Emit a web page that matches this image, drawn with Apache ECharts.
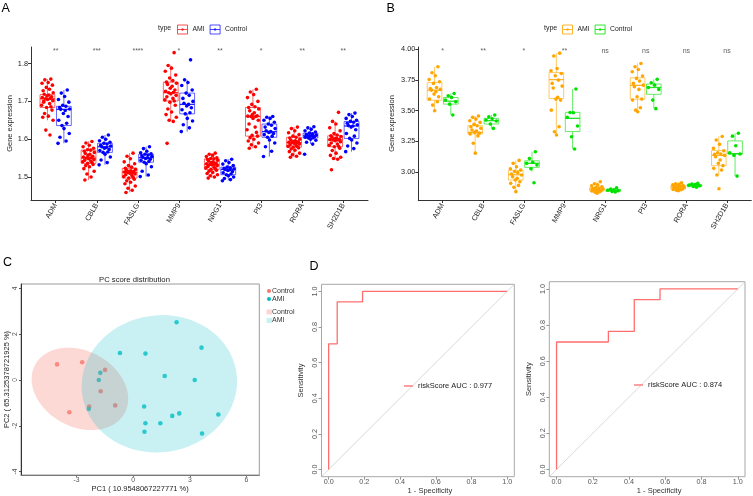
<!DOCTYPE html>
<html><head><meta charset="utf-8">
<script src="https://cdn.jsdelivr.net/npm/echarts@6.0.0/dist/echarts.min.js"></script>
<style>html,body{margin:0;padding:0;background:#fff}#chart{width:753px;height:496px}</style>
</head><body><div id="chart"></div>
<script>
// ---------------- DATA ----------------
const genes = ['ADM','CBLB','FASLG','MMP9','NRG1','PI3','RORA','SH2D1B'];
const groups = ['AMI','Control'];
const sigA = ['**','***','****','*','**','*','**','**'];
const sigB = ['*','**','*','**','ns','ns','ns','ns'];
const ticksA = [1.5,1.6,1.7,1.8];
const ticksB = [3.00,3.25,3.50,3.75,4.00];

// box stats [min, q1, median, q3, max]
const boxA_AMI = [
 [1.650,1.684,1.707,1.718,1.759],
 [1.492,1.536,1.550,1.571,1.594],
 [1.459,1.497,1.512,1.523,1.563],
 [1.647,1.701,1.723,1.751,1.795],
 [1.497,1.520,1.533,1.548,1.563],
 [1.576,1.608,1.660,1.684,1.732],
 [1.552,1.579,1.591,1.605,1.632],
 [1.547,1.580,1.598,1.609,1.647]];
const boxA_Ctrl = [
 [1.589,1.636,1.679,1.687,1.730],
 [1.532,1.565,1.580,1.589,1.611],
 [1.501,1.539,1.551,1.560,1.580],
 [1.620,1.667,1.692,1.722,1.757],
 [1.490,1.506,1.520,1.526,1.547],
 [1.554,1.605,1.620,1.640,1.660],
 [1.587,1.603,1.609,1.616,1.633],
 [1.567,1.602,1.635,1.647,1.669]];
const ptsA_AMI = [
 [1.759,1.757,1.750,1.748,1.743,1.737,1.732,1.728,1.723,1.719,1.717,1.714,1.712,1.710,1.708,1.707,1.705,1.702,1.698,1.694,1.690,1.686,1.684,1.677,1.668,1.661,1.658,1.650,1.624,1.611,1.700],
 [1.594,1.590,1.584,1.580,1.576,1.572,1.571,1.568,1.565,1.562,1.560,1.557,1.555,1.553,1.551,1.550,1.548,1.546,1.544,1.542,1.540,1.538,1.536,1.533,1.530,1.527,1.522,1.515,1.508,1.500,1.492],
 [1.563,1.555,1.548,1.540,1.535,1.530,1.526,1.523,1.520,1.518,1.516,1.515,1.514,1.513,1.512,1.512,1.510,1.508,1.506,1.504,1.501,1.499,1.497,1.494,1.490,1.486,1.482,1.476,1.470,1.465,1.459],
 [1.829,1.795,1.788,1.780,1.770,1.762,1.755,1.751,1.748,1.745,1.740,1.735,1.730,1.727,1.724,1.723,1.720,1.716,1.712,1.708,1.704,1.701,1.698,1.690,1.680,1.672,1.665,1.658,1.650,1.647,1.589],
 [1.563,1.560,1.557,1.554,1.551,1.549,1.548,1.546,1.544,1.542,1.540,1.538,1.536,1.535,1.534,1.533,1.532,1.530,1.528,1.526,1.524,1.522,1.520,1.518,1.515,1.512,1.509,1.506,1.503,1.500,1.497],
 [1.732,1.725,1.718,1.710,1.700,1.692,1.686,1.684,1.680,1.675,1.670,1.665,1.662,1.661,1.660,1.660,1.655,1.650,1.640,1.632,1.625,1.618,1.610,1.608,1.604,1.600,1.595,1.590,1.585,1.580,1.576],
 [1.632,1.628,1.622,1.617,1.612,1.608,1.605,1.603,1.600,1.598,1.596,1.594,1.593,1.592,1.591,1.591,1.589,1.587,1.585,1.583,1.581,1.580,1.579,1.577,1.574,1.571,1.567,1.563,1.559,1.555,1.552],
 [1.671,1.647,1.640,1.630,1.622,1.615,1.611,1.609,1.607,1.605,1.603,1.601,1.600,1.599,1.598,1.598,1.596,1.593,1.590,1.587,1.584,1.581,1.580,1.576,1.570,1.563,1.557,1.552,1.549,1.547,1.519]];
const ptsA_Ctrl = [
 [1.730,1.722,1.713,1.705,1.698,1.690,1.687,1.684,1.680,1.679,1.676,1.668,1.660,1.650,1.642,1.636,1.628,1.615,1.605,1.595,1.589],
 [1.611,1.605,1.600,1.596,1.592,1.589,1.587,1.584,1.582,1.580,1.578,1.576,1.573,1.570,1.566,1.565,1.560,1.553,1.545,1.538,1.532],
 [1.580,1.575,1.568,1.564,1.561,1.560,1.558,1.556,1.554,1.552,1.551,1.549,1.547,1.544,1.541,1.539,1.535,1.527,1.515,1.505,1.501],
 [1.810,1.757,1.750,1.742,1.730,1.722,1.716,1.708,1.700,1.695,1.692,1.688,1.683,1.678,1.670,1.667,1.655,1.648,1.638,1.630,1.620],
 [1.547,1.543,1.538,1.534,1.530,1.526,1.524,1.522,1.521,1.520,1.519,1.517,1.514,1.511,1.508,1.506,1.503,1.500,1.496,1.493,1.490],
 [1.660,1.658,1.655,1.650,1.645,1.640,1.637,1.632,1.628,1.622,1.620,1.618,1.615,1.612,1.608,1.605,1.598,1.590,1.580,1.568,1.554],
 [1.633,1.630,1.626,1.622,1.619,1.616,1.614,1.612,1.611,1.610,1.609,1.608,1.607,1.605,1.604,1.603,1.600,1.597,1.592,1.587,1.560],
 [1.669,1.665,1.660,1.655,1.650,1.647,1.645,1.642,1.638,1.636,1.635,1.632,1.625,1.615,1.608,1.602,1.598,1.590,1.582,1.575,1.567]];

const boxB_AMI = [
 [3.500,3.586,3.668,3.730,3.857],
 [3.154,3.311,3.324,3.378,3.457],
 [2.840,2.935,2.978,3.014,3.095],
 [3.302,3.600,3.754,3.811,3.970],
 [2.826,2.845,2.861,2.872,2.921],
 [3.492,3.594,3.707,3.769,3.886],
 [2.848,2.861,2.878,2.889,2.913],
 [2.976,3.052,3.136,3.175,3.290]];
const boxB_Ctrl = [
 [3.465,3.554,3.578,3.608,3.641],
 [3.354,3.392,3.419,3.438,3.465],
 [3.003,3.038,3.071,3.092,3.166],
 [3.188,3.330,3.438,3.487,3.677],
 [2.837,2.842,2.851,2.859,2.872],
 [3.517,3.634,3.690,3.718,3.756],
 [2.875,2.880,2.891,2.899,2.908],
 [2.967,3.147,3.150,3.254,3.316]];
const ptsB_AMI = [
 [3.859,3.810,3.785,3.755,3.736,3.723,3.690,3.682,3.674,3.668,3.655,3.636,3.614,3.595,3.573,3.546,3.500],
 [3.457,3.446,3.432,3.419,3.405,3.389,3.378,3.370,3.357,3.343,3.335,3.324,3.316,3.311,3.295,3.235,3.154],
 [3.095,3.071,3.043,3.027,3.016,3.005,2.995,2.984,2.976,2.962,2.948,2.935,2.921,2.908,2.891,2.875,2.840],
 [3.970,3.946,3.845,3.826,3.804,3.785,3.750,3.723,3.701,3.685,3.609,3.595,3.587,3.505,3.370,3.329,3.302],
 [2.921,2.905,2.895,2.888,2.880,2.874,2.870,2.866,2.862,2.858,2.855,2.851,2.848,2.845,2.840,2.835,2.828],
 [3.886,3.859,3.837,3.818,3.783,3.764,3.742,3.723,3.709,3.696,3.674,3.614,3.595,3.587,3.524,3.505,3.492],
 [2.913,2.905,2.900,2.895,2.890,2.886,2.883,2.880,2.877,2.874,2.870,2.866,2.862,2.858,2.855,2.852,2.848],
 [3.290,3.261,3.226,3.193,3.174,3.158,3.147,3.144,3.136,3.125,3.098,3.071,3.052,3.030,3.016,2.976,2.864]];
const ptsB_Ctrl = [
 [3.641,3.622,3.609,3.587,3.573,3.554,3.465],
 [3.465,3.450,3.435,3.424,3.416,3.392,3.356],
 [3.166,3.111,3.079,3.071,3.057,3.027,2.913],
 [3.677,3.486,3.484,3.446,3.375,3.288,3.188],
 [2.872,2.862,2.856,2.851,2.847,2.842,2.838],
 [3.756,3.728,3.709,3.690,3.674,3.587,3.517],
 [2.908,2.902,2.898,2.893,2.888,2.882,2.876],
 [3.316,3.293,3.215,3.158,3.147,3.136,2.967]];

// PCA scores
const pcCtrlX = [-4.03,-2.70,-3.38,-1.49,-1.72,-2.33,-0.95];
const pcCtrlY = [0.68,0.77,-1.41,0.44,-0.49,-1.16,-1.11];
const pcAmiX = [2.30,3.62,-0.70,0.65,-1.74,-1.82,1.67,3.26,-2.35,0.58,2.07,2.44,4.51,0.65,1.44,0.60,3.65];
const pcAmiY = [2.52,1.41,1.18,1.15,0.31,0.00,0.17,0.00,-1.27,-1.16,-1.57,-1.46,-1.51,-1.89,-1.89,-2.26,-2.34];
const pcTicksX = [-3,0,3,6];
const pcTicksY = [-4,-2,0,2,4];
// ellipses: [centerX, centerY, axis1X, axis1Y, axis2X, axis2Y]
const ellCtrl = [-2.82,-0.39,2.38,-1.044,0.942,1.467];
const ellAmi = [1.386,-0.166,4.085,0.476,-0.504,2.96];

// ROC curves
const roc1X = [0,0,0.048,0.048,0.19,0.19,1];
const roc1Y = [0,0.706,0.706,0.941,0.941,1,1];
const roc2X = [0,0,0.286,0.286,0.429,0.429,0.571,0.571,1];
const roc2Y = [0,0.706,0.706,0.765,0.765,0.941,0.941,1,1];
const aucValues = ['0.977','0.874'];
const rocTicks = [0,0.2,0.4,0.6,0.8,1.0];
const diagLine = [-0.04,1.04];

// ---------------- STYLE / HELPERS ----------------
const FONT = 'Liberation Sans, Arial, sans-serif';
const JIT = [0.55,-0.42,0.12,-0.88,0.81,-0.18,0.33,-0.69,0.94,-0.52,0.22,-0.08,0.68,-0.83,0.45,-0.31,0.02,0.87,-0.63,0.36,-0.95,0.57,-0.14,0.74,-0.46,0.15,-0.76,0.91,-0.26,0.41,-0.59];
const catPos = genes.map((g,i)=>i+1);
const cA = {AMI:'#FF0000', Control:'#0000FF'};
const cB = {AMI:'#FFA500', Control:'#00E100'};
const DODGE = 0.2, BOXW = 0.36, JW = 0.15;
const KEY_ICON = 'path://M0,0H10V9H0Z M0,4.5H10 M4.3,3.8H5.7V5.2H4.3Z';

function boxSeries(name, gi, stats, dodge, color) {
  return {
    type:'custom', name:name, xAxisIndex:gi, yAxisIndex:gi, silent:true, z:2,
    data: stats.map((s,i)=>[catPos[i]].concat(s)),
    encode:{x:0, y:[1,2,3,4,5]},
    renderItem:function(params, api){
      const x = api.value(0)+dodge;
      const lo=api.coord([x,api.value(1)]), q1=api.coord([x,api.value(2)]), md=api.coord([x,api.value(3)]),
            q3=api.coord([x,api.value(4)]), hi=api.coord([x,api.value(5)]);
      const hw = api.size([BOXW/2,0])[0];
      const cx = md[0];
      const st = {stroke:color, lineWidth:1, opacity:0.6, fill:null};
      return {type:'group', children:[
        {type:'line', shape:{x1:cx,y1:hi[1],x2:cx,y2:q3[1]}, style:st},
        {type:'line', shape:{x1:cx,y1:q1[1],x2:cx,y2:lo[1]}, style:st},
        {type:'rect', shape:{x:cx-hw,y:q3[1],width:2*hw,height:q1[1]-q3[1]}, style:{stroke:color,lineWidth:1,opacity:0.6,fill:'rgba(255,255,255,0)'}},
        {type:'line', shape:{x1:cx-hw,y1:md[1],x2:cx+hw,y2:md[1]}, style:{stroke:color,lineWidth:1.3,opacity:0.85}}
      ]};
    }
  };
}
function pointSeries(name, gi, pts, dodge, color) {
  const data = [];
  pts.forEach((arr,i)=>arr.forEach((v,j)=>data.push([catPos[i]+dodge+JIT[j%JIT.length]*JW, v])));
  return {type:'scatter', name:name, xAxisIndex:gi, yAxisIndex:gi, data:data, symbolSize:3.6,
          itemStyle:{color:color, opacity:1}, z:3, silent:true};
}
function sigSeries(gi, sig, y) {
  return {type:'scatter', xAxisIndex:gi, yAxisIndex:gi, data:sig.map((s,i)=>[catPos[i], y]),
    symbolSize:1, itemStyle:{color:'rgba(0,0,0,0)'}, silent:true, z:4,
    label:{show:true, position:'inside', formatter:p=>sig[p.dataIndex], fontSize:7, color:'#333', fontFamily:FONT}};
}
function geneXAxis(gi) {
  return {type:'value', gridIndex:gi, min:0.4, max:8.6,
    axisLine:{show:true, onZero:false, lineStyle:{color:'#333', width:1}},
    axisTick:{show:true, customValues:catPos, length:3, lineStyle:{color:'#333'}},
    axisLabel:{customValues:catPos, formatter:v=>genes[Math.round(v)-1], rotate:60, fontSize:7.3, color:'#222', margin:4, fontFamily:FONT},
    splitLine:{show:false}};
}
function geneYAxis(gi, mn, mx, ticks, digits, gap) {
  return {type:'value', gridIndex:gi, min:mn, max:mx,
    axisLine:{show:true, onZero:false, lineStyle:{color:'#333', width:1}},
    axisTick:{show:true, customValues:ticks, length:3, lineStyle:{color:'#333'}},
    axisLabel:{customValues:ticks, formatter:v=>v.toFixed(digits), fontSize:7.3, color:'#222', margin:3, fontFamily:FONT},
    splitLine:{show:false},
    name:'Gene expression', nameLocation:'middle', nameGap:gap,
    nameTextStyle:{fontSize:7.5, color:'#222', fontFamily:FONT}};
}
function rocAxes(gi, yGap) {
  return [{type:'value', gridIndex:gi, min:-0.04, max:1.04,
    axisLine:{show:false, onZero:false},
    axisTick:{show:true, customValues:rocTicks, length:3, lineStyle:{color:'#999'}},
    axisLabel:{customValues:rocTicks, formatter:v=>v.toFixed(1), fontSize:7.2, color:'#555', margin:2, fontFamily:FONT},
    splitLine:{show:false},
    name:'1 - Specificity', nameLocation:'middle', nameGap:8,
    nameTextStyle:{fontSize:7.5, color:'#333', fontFamily:FONT, padding:[0,0,0,24]}},
   {type:'value', gridIndex:gi, min:-0.04, max:1.04,
    axisLine:{show:false, onZero:false},
    axisTick:{show:true, customValues:rocTicks, length:3, lineStyle:{color:'#999'}},
    axisLabel:{customValues:rocTicks, formatter:v=>v.toFixed(1), fontSize:7.2, color:'#555', margin:3, rotate:90, fontFamily:FONT},
    splitLine:{show:false},
    name:'Sensitivity', nameLocation:'middle', nameGap:yGap,
    nameTextStyle:{fontSize:7.5, color:'#333', fontFamily:FONT}}];
}
function ellipseSeries(name, e, color) {
  return {type:'custom', name:name, xAxisIndex:2, yAxisIndex:2, silent:true, z:4,
    itemStyle:{color:color},
    data:[e], encode:{x:0, y:1},
    renderItem:function(params, api){
      const pts = [];
      for (let k=0;k<90;k++){
        const t = 2*Math.PI*k/90;
        pts.push(api.coord([api.value(0)+Math.cos(t)*api.value(2)+Math.sin(t)*api.value(4),
                            api.value(1)+Math.cos(t)*api.value(3)+Math.sin(t)*api.value(5)]));
      }
      return {type:'polygon', shape:{points:pts}, style:{fill:color}};
    }};
}
const rocName1 = 'riskScore AUC : ' + aucValues[0];
const rocName2 = 'riskScore AUC : ' + aucValues[1];
const rocColor = '#FF6E6E';

const [rx3, ry3] = rocAxes(3, 17);
const [rx4, ry4] = rocAxes(4, 16);

const option = {
  animation:false,
  textStyle:{fontFamily:FONT},
  title:[
    {text:'A', left:1.5, top:2, padding:0, textStyle:{fontSize:12.5, fontWeight:'normal', color:'#000', fontFamily:FONT}},
    {text:'B', left:386.5, top:2, padding:0, textStyle:{fontSize:12.5, fontWeight:'normal', color:'#000', fontFamily:FONT}},
    {text:'C', left:3, top:256, padding:0, textStyle:{fontSize:12.5, fontWeight:'normal', color:'#000', fontFamily:FONT}},
    {text:'D', left:309.5, top:260.5, padding:0, textStyle:{fontSize:12.5, fontWeight:'normal', color:'#000', fontFamily:FONT}},
    {text:'type', left:158, top:25, padding:0, textStyle:{fontSize:7, fontWeight:'normal', color:'#222', fontFamily:FONT}},
    {text:'type', left:544, top:25, padding:0, textStyle:{fontSize:7, fontWeight:'normal', color:'#222', fontFamily:FONT}},
    {text:'PC score distribution', left:99, top:275.5, padding:0, textStyle:{fontSize:7.7, fontWeight:'normal', color:'#222', fontFamily:FONT}}
  ],
  legend:[
    {left:177, top:24.5, padding:0, itemWidth:10, itemHeight:9, itemGap:5, icon:KEY_ICON, selectedMode:false,
     textStyle:{fontSize:6.8, color:'#222', fontFamily:FONT},
     data:[{name:'AMI', itemStyle:{color:'rgba(0,0,0,0)', borderColor:'rgba(255,0,0,0.7)', borderWidth:1}},
           {name:'Control', itemStyle:{color:'rgba(0,0,0,0)', borderColor:'rgba(0,0,255,0.7)', borderWidth:1}}]},
    {left:562, top:24.5, padding:0, itemWidth:10, itemHeight:9, itemGap:5, icon:KEY_ICON, selectedMode:false,
     textStyle:{fontSize:6.8, color:'#222', fontFamily:FONT},
     data:[{name:'AMI', itemStyle:{color:'rgba(0,0,0,0)', borderColor:'rgba(255,165,0,0.8)', borderWidth:1}},
           {name:'Control', itemStyle:{color:'rgba(0,0,0,0)', borderColor:'rgba(0,225,0,0.8)', borderWidth:1}}]},
    {left:267, top:287.5, padding:0, orient:'vertical', itemWidth:4, itemHeight:4, itemGap:1, icon:'circle', selectedMode:false,
     textStyle:{fontSize:7, lineHeight:5, color:'#333', fontFamily:FONT, padding:[0,0,0,-4]},
     data:[{name:'Control', itemStyle:{color:'#F8766D'}}, {name:'AMI', itemStyle:{color:'#00BFC4'}}]},
    {left:266.5, top:308.5, padding:0, orient:'vertical', itemWidth:5.5, itemHeight:5, itemGap:1.5, icon:'rect', selectedMode:false,
     formatter:n=>n.replace('_e',''),
     textStyle:{fontSize:7, lineHeight:5, color:'#333', fontFamily:FONT, padding:[0,0,0,-5]},
     data:[{name:'Control_e', itemStyle:{color:'rgba(248,118,109,0.3)'}}, {name:'AMI_e', itemStyle:{color:'rgba(0,191,196,0.22)'}}]},
    {left:404, top:382, padding:0, itemWidth:9, itemHeight:1.3, selectedMode:false, icon:'rect',
     textStyle:{fontSize:7.5, color:'#222', fontFamily:FONT},
     data:[{name:rocName1, icon:'rect', itemStyle:{color:rocColor, borderWidth:0}}]},
    {left:634, top:381, padding:0, itemWidth:9, itemHeight:1.3, selectedMode:false, icon:'rect',
     textStyle:{fontSize:7.5, color:'#222', fontFamily:FONT},
     data:[{name:rocName2, icon:'rect', itemStyle:{color:rocColor, borderWidth:0}}]}
  ],
  grid:[
    {left:31, top:47, width:337, height:153},
    {left:418.3, top:47, width:333, height:153},
    {left:21, top:284, width:238.3, height:191, show:true, borderColor:'#9a9a9a', borderWidth:1},
    {left:321.5, top:284.3, width:192.8, height:192.4, show:true, borderColor:'#a8a8a8', borderWidth:1},
    {left:549.3, top:281.7, width:195.7, height:195, show:true, borderColor:'#a8a8a8', borderWidth:1}
  ],
  xAxis:[
    geneXAxis(0), geneXAxis(1),
    {type:'value', gridIndex:2, min:-5.94, max:6.68,
     axisLine:{show:true, onZero:false, lineStyle:{color:'#777'}},
     axisTick:{show:true, customValues:pcTicksX, length:2, lineStyle:{color:'#777'}},
     axisLabel:{customValues:pcTicksX, fontSize:6.8, color:'#555', margin:2, fontFamily:FONT},
     splitLine:{show:false},
     name:'PC1 ( 10.9548067227771 %)', nameLocation:'middle', nameGap:10,
     nameTextStyle:{fontSize:7.5, color:'#222', fontFamily:FONT}},
    rx3, rx4
  ],
  yAxis:[
    geneYAxis(0, 1.439, 1.844, ticksA, 1, 15),
    geneYAxis(1, 2.772, 4.02, ticksB, 2, 22),
    {type:'value', gridIndex:2, min:-4.15, max:4.19,
     axisLine:{show:true, onZero:false, lineStyle:{color:'#333'}},
     axisTick:{show:true, customValues:pcTicksY, length:2, lineStyle:{color:'#555'}},
     axisLabel:{customValues:pcTicksY, fontSize:6.8, color:'#555', margin:2, rotate:90, fontFamily:FONT},
     splitLine:{show:false},
     name:'PC2 ( 65.3125378721925 %)', nameLocation:'middle', nameGap:9,
     nameTextStyle:{fontSize:7.5, color:'#222', fontFamily:FONT}},
    ry3, ry4
  ],
  series:[
    boxSeries('AMI', 0, boxA_AMI, -DODGE, cA.AMI),
    boxSeries('Control', 0, boxA_Ctrl, DODGE, cA.Control),
    pointSeries('AMI', 0, ptsA_AMI, -DODGE, cA.AMI),
    pointSeries('Control', 0, ptsA_Ctrl, DODGE, cA.Control),
    sigSeries(0, sigA, 1.834),
    boxSeries('AMI', 1, boxB_AMI, -DODGE, cB.AMI),
    boxSeries('Control', 1, boxB_Ctrl, DODGE, cB.Control),
    pointSeries('AMI', 1, ptsB_AMI, -DODGE, cB.AMI),
    pointSeries('Control', 1, ptsB_Ctrl, DODGE, cB.Control),
    sigSeries(1, sigB, 3.986),
    {type:'scatter', name:'Control', xAxisIndex:2, yAxisIndex:2, symbolSize:4.6, z:3, silent:true,
     itemStyle:{color:'#F8766D'}, data:pcCtrlX.map((x,i)=>[x, pcCtrlY[i]])},
    {type:'scatter', name:'AMI', xAxisIndex:2, yAxisIndex:2, symbolSize:4.6, z:3, silent:true,
     itemStyle:{color:'#00BFC4'}, data:pcAmiX.map((x,i)=>[x, pcAmiY[i]])},
    ellipseSeries('Control_e', ellCtrl, 'rgba(248,118,109,0.28)'),
    ellipseSeries('AMI_e', ellAmi, 'rgba(0,191,196,0.21)'),
    {type:'line', xAxisIndex:3, yAxisIndex:3, symbol:'none', silent:true, z:2,
     lineStyle:{color:'#cfcfcf', width:0.8}, data:diagLine.map(v=>[v,v])},
    {type:'line', name:rocName1, xAxisIndex:3, yAxisIndex:3, symbol:'none', silent:true, z:3,
     lineStyle:{color:rocColor, width:1.3}, itemStyle:{color:rocColor}, data:roc1X.map((x,i)=>[x, roc1Y[i]])},
    {type:'line', xAxisIndex:4, yAxisIndex:4, symbol:'none', silent:true, z:2,
     lineStyle:{color:'#cfcfcf', width:0.8}, data:diagLine.map(v=>[v,v])},
    {type:'line', name:rocName2, xAxisIndex:4, yAxisIndex:4, symbol:'none', silent:true, z:3,
     lineStyle:{color:rocColor, width:1.3}, itemStyle:{color:rocColor}, data:roc2X.map((x,i)=>[x, roc2Y[i]])}
  ]
};
const chart = echarts.init(document.getElementById('chart'), null, {renderer:'canvas'});
chart.setOption(option);
</script></body></html>
